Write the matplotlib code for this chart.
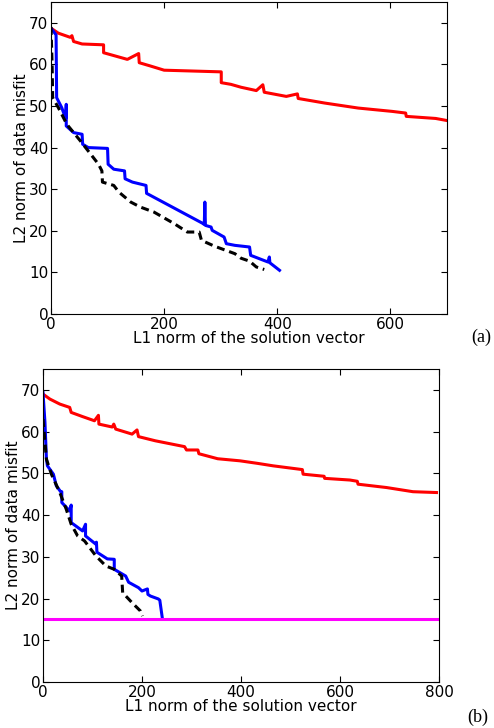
import matplotlib
matplotlib.use("Agg")
import matplotlib.pyplot as plt

# ---- panel (a) ----
a_red_x = [0, 13, 34, 37, 40, 55, 93, 93, 135, 155, 156, 176, 200, 301, 301, 318, 336, 363,
           374.5, 377, 416, 435.6, 437, 484, 543, 603, 627, 628, 680, 700]
a_red_y = [68.7, 67.5, 66.5, 66.9, 65.5, 64.9, 64.7, 62.8, 61.2, 62.6, 60.4, 59.6, 58.6, 58.2,
           55.6, 55.2, 54.5, 53.7, 55.1, 53.3, 52.3, 52.9, 51.8, 50.7, 49.5, 48.7, 48.3, 47.5,
           47.0, 46.5]

a_blue_x = [0, 9, 10, 19, 26, 27, 27, 40, 55, 56, 66, 100, 101, 111, 130, 131, 144, 168, 169,
            268, 271, 272, 273, 283, 285, 306, 310, 325, 351, 353, 372, 383.5, 386, 387, 404]
a_blue_y = [68.7, 67.1, 52, 49.6, 47, 50.4, 45.2, 43.6, 43.2, 40.8, 40, 39.8, 36.0, 34.8, 34.4,
            32.5, 31.7, 30.9, 29.0, 21.8, 21.5, 26.9, 21.3, 20.9, 20.1, 18.5, 16.9, 16.5, 16.1,
            14.1, 13.1, 12.5, 13.7, 12.3, 10.5]

a_black_x = [0, 2, 3, 13, 28, 52, 84, 90, 91, 111, 120, 141, 158, 182, 218, 241, 262, 266, 289,
             325, 336, 351, 363, 377]
a_black_y = [69, 60, 52, 49.6, 45.6, 41.6, 36, 34.4, 31.7, 30.9, 29.3, 26.9, 25.7, 24.5, 21.7,
             19.7, 19.7, 17.7, 16.3, 14.5, 13.4, 12.7, 11.3, 10.7]

# ---- panel (b) ----
b_red_x = [0, 14, 34, 54, 57, 80, 104, 112, 113, 140, 143, 147, 180, 190, 193, 227, 286, 290,
           313, 315, 353, 398, 433, 465, 524, 525.5, 568, 569, 620, 635, 636.5, 694, 747.5, 795]
b_red_y = [69, 67.8, 66.6, 65.8, 64.6, 63.6, 62.6, 63.9, 61.8, 61.1, 61.8, 60.6, 59.4, 60.4,
           58.8, 57.8, 56.4, 55.6, 55.6, 54.7, 53.5, 53.0, 52.4, 51.8, 50.9, 49.8, 49.3, 48.8,
           48.4, 48.1, 47.4, 46.6, 45.6, 45.4]

b_blue_x = [0, 4, 7, 9, 21, 27, 37, 38, 38, 54, 57, 57, 80, 86, 86, 107, 108, 109, 130, 144,
            144, 167, 173, 193, 200, 211, 212, 217, 233, 236, 241]
b_blue_y = [69.4, 62.2, 53.4, 51.8, 49.8, 47, 45.4, 45.6, 43, 41, 42.4, 38.2, 36.2, 37.8, 35,
            33, 33.5, 31.1, 29.5, 29.4, 27, 25.4, 23.9, 22.6, 21.8, 22.3, 21, 20.6, 19.9, 19.6,
            15.4]

b_black_x = [0, 7, 17, 34, 47, 57, 70, 84, 107, 127, 144, 159, 161, 180, 197, 201]
b_black_y = [63, 53.4, 49.8, 45.4, 41.4, 37.8, 35, 33.8, 30.2, 27.8, 27, 25.4, 21.4, 19, 17,
             15.8]

b_target = 15

y_ticks = [0, 10, 20, 30, 40, 50, 60, 70]
a_xticks = [0, 200, 400, 600]
b_xticks = [0, 200, 400, 600, 800]

plt.rcParams["font.family"] = ["DejaVu Sans"]
plt.rcParams["font.size"] = 11

LW = 2.2
DASH = (0, (2.6, 1.6))

fig = plt.figure(figsize=(4.94, 7.28), dpi=100)
ax_a = fig.add_axes([0.1032, 0.5687, 0.8016, 0.4286])
ax_b = fig.add_axes([0.0870, 0.0632, 0.8016, 0.4299])


def style(ax, xmax, xticks):
    ax.set_xlim(0, xmax)
    ax.set_ylim(0, 75)
    ax.set_xticks(xticks)
    ax.set_yticks(y_ticks)
    ax.tick_params(direction="in", length=4, width=0.8, top=True, right=True,
                   labelsize=11, pad=2)
    ax.tick_params(axis="x", pad=2.5)
    for s in ax.spines.values():
        s.set_linewidth(0.8)
    ax.set_xlabel("L1 norm of the solution vector", fontsize=11, labelpad=-1)
    ax.set_ylabel("L2 norm of data misfit", fontsize=11, labelpad=0)


ax_a.plot(a_red_x, a_red_y, color="#ff0000", lw=LW)
ax_a.plot(a_blue_x, a_blue_y, color="#0000ff", lw=LW)
ax_a.plot(a_black_x, a_black_y, color="black", lw=LW, linestyle=DASH)
style(ax_a, 700, a_xticks)

ax_b.plot(b_red_x, b_red_y, color="#ff0000", lw=LW)
ax_b.plot(b_blue_x, b_blue_y, color="#0000ff", lw=LW)
ax_b.plot(b_black_x, b_black_y, color="black", lw=LW, linestyle=DASH)
ax_b.axhline(b_target, color="#ff00ff", lw=LW)
style(ax_b, 800, b_xticks)

fig.text(0.974, 1 - 337 / 728, "(a)", family="Liberation Serif", fontsize=13,
         ha="center", va="center")
fig.text(0.968, 1 - 717 / 728, "(b)", family="Liberation Serif", fontsize=13,
         ha="center", va="center")

fig.savefig("out.png", dpi=100)
